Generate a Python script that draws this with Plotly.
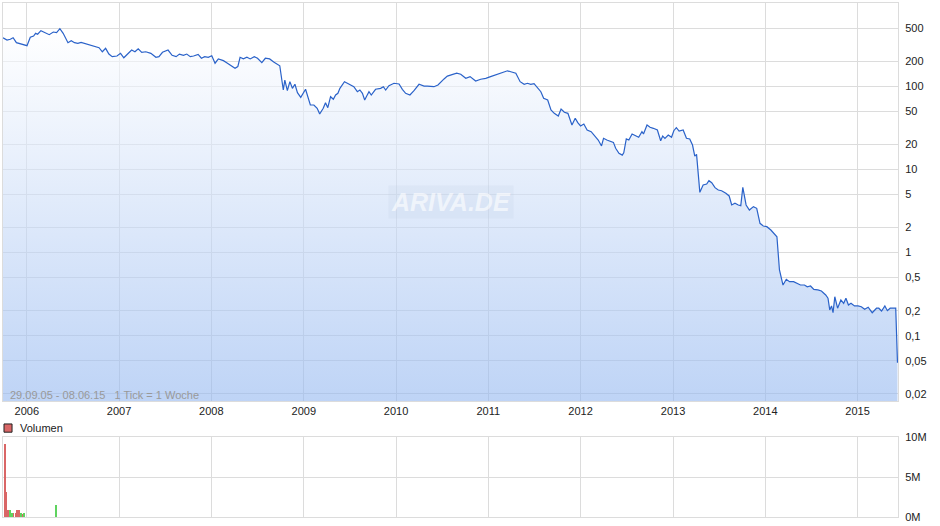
import plotly.graph_objects as go

# ---------------- data ----------------
price_dates = [
    "2005-09-29", "2005-10-15", "2005-10-28", "2005-11-08", "2005-11-21", "2005-12-07", "2005-12-23",
    "2006-01-02", "2006-01-15", "2006-01-28", "2006-02-05", "2006-02-13", "2006-02-26", "2006-03-15",
    "2006-03-31", "2006-04-16", "2006-04-29", "2006-05-12", "2006-05-25", "2006-06-13", "2006-06-26",
    "2006-07-09", "2006-07-22", "2006-08-04", "2006-08-17", "2006-08-30", "2006-09-12", "2006-10-01",
    "2006-10-14", "2006-10-27", "2006-11-09", "2006-11-22", "2006-12-05", "2006-12-24",
    "2007-01-07", "2007-01-20", "2007-02-02", "2007-02-20", "2007-03-05", "2007-03-18", "2007-04-01",
    "2007-04-17", "2007-05-07", "2007-05-27", "2007-06-08", "2007-06-22", "2007-07-14", "2007-07-30",
    "2007-08-15", "2007-08-28", "2007-09-13", "2007-09-26", "2007-10-10", "2007-10-23", "2007-11-10",
    "2007-11-23", "2007-12-06", "2007-12-20",
    "2008-01-03", "2008-01-16", "2008-01-29", "2008-02-18", "2008-03-02", "2008-03-22", "2008-04-04",
    "2008-04-15", "2008-04-24", "2008-05-07", "2008-05-21", "2008-06-03", "2008-06-19", "2008-07-02",
    "2008-07-19", "2008-08-02", "2008-08-19", "2008-09-04", "2008-09-20", "2008-09-28", "2008-10-12",
    "2008-10-18", "2008-10-28", "2008-11-07", "2008-11-17", "2008-11-27", "2008-12-07", "2008-12-20",
    "2009-01-08", "2009-01-27", "2009-02-10", "2009-02-23", "2009-03-05", "2009-03-19", "2009-03-28",
    "2009-04-06", "2009-04-17", "2009-04-28", "2009-05-07", "2009-05-16", "2009-05-24", "2009-06-02",
    "2009-06-11", "2009-06-28", "2009-07-18", "2009-08-01", "2009-08-11", "2009-08-21", "2009-08-30",
    "2009-09-07", "2009-09-16", "2009-09-25", "2009-10-12", "2009-11-01", "2009-11-12", "2009-11-21",
    "2009-12-04", "2009-12-24",
    "2010-01-13", "2010-01-26", "2010-02-08", "2010-02-25", "2010-03-13", "2010-04-02", "2010-04-22",
    "2010-05-05", "2010-05-18", "2010-05-31", "2010-06-16", "2010-06-27", "2010-07-10", "2010-07-23",
    "2010-08-12", "2010-08-29", "2010-09-14", "2010-10-04", "2010-10-21", "2010-11-12", "2010-12-02",
    "2010-12-22",
    "2011-01-10", "2011-01-30", "2011-02-16", "2011-03-04", "2011-03-18", "2011-03-31", "2011-04-20",
    "2011-05-07", "2011-05-23", "2011-06-05", "2011-06-18", "2011-07-01", "2011-07-15", "2011-07-28",
    "2011-08-08", "2011-08-24", "2011-09-06", "2011-09-19", "2011-10-05", "2011-10-16", "2011-10-29",
    "2011-11-12", "2011-11-28", "2011-12-11", "2011-12-21",
    "2012-01-01", "2012-01-14", "2012-01-27", "2012-02-12", "2012-02-24", "2012-03-11", "2012-03-24",
    "2012-04-01", "2012-04-14", "2012-04-23", "2012-05-10", "2012-05-19", "2012-06-01", "2012-06-14",
    "2012-06-20", "2012-06-30", "2012-07-10", "2012-07-23", "2012-08-05", "2012-08-18", "2012-08-31",
    "2012-09-06", "2012-09-20", "2012-10-02", "2012-10-15", "2012-10-31", "2012-11-13", "2012-11-21",
    "2012-11-30", "2012-12-13", "2012-12-26",
    "2013-01-04", "2013-01-14", "2013-01-25", "2013-02-10", "2013-02-23", "2013-03-08", "2013-03-19",
    "2013-03-28", "2013-04-04", "2013-04-17", "2013-04-30", "2013-05-14", "2013-05-23", "2013-06-03",
    "2013-06-16", "2013-06-29", "2013-07-12", "2013-07-29", "2013-08-11", "2013-08-21", "2013-09-03",
    "2013-09-16", "2013-09-26", "2013-10-04", "2013-10-17", "2013-10-30", "2013-11-15", "2013-11-28",
    "2013-12-11", "2013-12-24",
    "2014-01-07", "2014-01-23", "2014-02-02", "2014-02-16", "2014-02-26", "2014-03-12", "2014-03-25",
    "2014-04-07", "2014-04-23", "2014-05-07", "2014-05-20", "2014-06-05", "2014-06-16", "2014-06-29",
    "2014-07-12", "2014-07-28", "2014-08-11", "2014-08-28", "2014-09-06", "2014-09-13", "2014-09-20",
    "2014-09-26", "2014-10-03", "2014-10-14", "2014-10-27", "2014-11-07", "2014-11-16", "2014-11-26",
    "2014-12-06", "2014-12-20",
    "2015-01-03", "2015-01-16", "2015-01-29", "2015-02-12", "2015-02-28", "2015-03-17", "2015-03-26",
    "2015-04-06", "2015-04-19", "2015-04-29", "2015-05-10", "2015-06-01", "2015-06-08",
]
price_values = [
    385, 361, 369, 385, 336, 324, 315,
    309, 390, 404, 435, 424, 468, 443,
    419, 451, 443, 495, 435, 336, 355,
    336, 330, 339, 330, 324, 309, 300,
    292, 261, 287, 245, 228, 232,
    250, 221, 243, 274, 261, 284, 257,
    261, 250, 224, 228, 257, 274, 237,
    228, 245, 237, 245, 228, 232, 243,
    218, 228, 224,
    234, 190, 214, 204, 193, 173, 165,
    173, 224, 215, 224, 214, 228, 218,
    193, 218, 214, 197, 181, 177, 90.5,
    119, 88.7, 114, 94.8, 106, 83.9, 73.9,
    92.3, 59.7, 59.7, 54.5, 46.5, 54.5, 63.6,
    55.4, 75.1, 69.9, 78.8, 82.6, 94.8, 104,
    114, 107, 99.2, 86.3, 90.5, 82.6, 68.6,
    76.6, 86.3, 78.8, 92.3, 94.8, 99.2, 90.5,
    102, 109,
    107, 92.3, 82.6, 78.8, 88.7, 106, 101,
    101, 99.2, 99.2, 104, 114, 123, 133,
    140, 144, 140, 125, 131, 116, 122,
    125,
    131, 137, 144, 150, 154, 150, 144,
    114, 106, 109, 106, 108, 94.8, 86.3,
    71.9, 68.6, 52, 47.4, 44, 53.5, 48.8,
    47.4, 34.3, 41.3, 36.6,
    33.4, 35.3, 29.9, 28.5, 26, 22.6, 19.2,
    23.7, 22.6, 22, 21.2, 18, 15.7, 14.9,
    15.9, 23.3, 22.6, 26.7, 25.3, 24.4, 28.5,
    26.7, 34.3, 32.2, 31.3, 29.9, 22.2, 25.3,
    23.7, 26, 24.4,
    29.3, 31.8, 29, 29.9, 23.7, 23.3, 19.7,
    14.5, 15.2, 5.31, 6.51, 6.69, 7.33, 6.93,
    6.04, 5.66, 5.55, 5.17, 4.8, 3.74, 3.92,
    3.74, 3.67, 6.1, 3.74, 3.25, 3.57, 3.41,
    2.25, 2.09,
    2.05, 1.87, 1.75, 1.55, 0.617, 0.407, 0.477,
    0.446, 0.446, 0.427, 0.407, 0.407, 0.388, 0.396,
    0.361, 0.355, 0.345, 0.309, 0.282, 0.204, 0.228,
    0.189, 0.294, 0.214, 0.269, 0.245, 0.282, 0.234,
    0.245, 0.228,
    0.228, 0.223, 0.208, 0.22, 0.189, 0.214, 0.214,
    0.198, 0.228, 0.2, 0.214, 0.214, 0.0473,
]

volume_dates = [
    "2005-10-06", "2005-10-13", "2005-10-20", "2005-10-27", "2005-11-03", "2005-11-10", "2005-11-17",
    "2005-11-24", "2005-12-01", "2005-12-08", "2005-12-15", "2005-12-22", "2006-04-27",
]
volume_values = [
    9.16e6, 3.05e6, 0.79e6, 0.79e6, 0.46e6, 0.40e6, 0.50e6,
    0.79e6, 0.79e6, 0.40e6, 0.30e6, 0.50e6, 1.50e6,
]
volume_direction = [
    "down", "down", "down", "up", "up", "down", "down",
    "down", "down", "up", "down", "up", "up",
]

price_tick_values = [0.02, 0.05, 0.1, 0.2, 0.5, 1, 2, 5, 10, 20, 50, 100, 200, 500]
price_tick_labels = ["0,02", "0,05", "0,1", "0,2", "0,5", "1", "2", "5", "10", "20", "50", "100", "200", "500"]
volume_tick_values = [0, 5e6, 10e6]
volume_tick_labels = ["0M", "5M", "10M"]

# ---------------- styling ----------------
GRID = "#dcdcdc"
LINE = "#2a62c9"
FONT = "Liberation Sans, Arial, sans-serif"
fill_floor = 0.0164
price_range_log = [-1.786, 3.0035]
dir_colors = {"up": "#5fd35f", "down": "#d96666"}

fig = go.Figure()

fig.add_trace(go.Scatter(
    x=[price_dates[0], price_dates[-1]], y=[fill_floor, fill_floor],
    mode="lines", line=dict(width=0), showlegend=False, hoverinfo="skip",
    xaxis="x", yaxis="y",
))
fig.add_trace(go.Scatter(
    x=price_dates, y=price_values, mode="lines",
    line=dict(color=LINE, width=1.2),
    fill="tonexty",
    fillgradient=dict(
        type="vertical",
        colorscale=[[0, "rgba(147,183,240,0.6)"], [1, "rgba(255,255,255,0.6)"]],
    ),
    showlegend=False, xaxis="x", yaxis="y",
))

fig.add_trace(go.Bar(
    x=volume_dates, y=volume_values,
    marker=dict(color=[dir_colors[d] for d in volume_direction], line=dict(width=0)),
    width=[3.0 * 86400000] * len(volume_dates),
    showlegend=False, xaxis="x2", yaxis="y2",
))

axis_common = dict(showgrid=True, gridcolor=GRID, gridwidth=1, showline=True, linecolor=GRID,
                   linewidth=1, mirror=True, zeroline=False, ticks="")

fig.update_layout(
    width=940, height=526,
    margin=dict(l=3, r=42, t=3, b=9, autoexpand=False),
    paper_bgcolor="white", plot_bgcolor="white",
    font=dict(family=FONT, size=11, color="#222"),
    bargap=0,
    xaxis=dict(
        type="date", range=["2005-09-29", "2015-06-10"], anchor="y",
        dtick="M12", tick0="2006-01-01", tickformat="%Y",
        tickfont=dict(size=11, color="#222"), automargin=False,
        **axis_common,
    ),
    yaxis=dict(
        type="log", range=price_range_log, domain=[0.2257, 1], side="right", anchor="x",
        tickvals=price_tick_values, ticktext=price_tick_labels, ticklabelstandoff=4,
        automargin=False,
        **axis_common,
    ),
    xaxis2=dict(
        type="date", matches="x", anchor="y2", showticklabels=False,
        dtick="M12", tick0="2006-01-01", automargin=False,
        **axis_common,
    ),
    yaxis2=dict(
        range=[0, 10e6], domain=[0, 0.155], side="right", anchor="x2",
        tickvals=volume_tick_values, ticktext=volume_tick_labels, ticklabelstandoff=4,
        automargin=False,
        **axis_common,
    ),
    showlegend=False,
)

# watermark
fig.add_annotation(
    x=0.5006, y=0.6128, xref="paper", yref="paper", text="<b><i>ARIVA.DE</i></b>",
    showarrow=False, font=dict(family=FONT, size=25, color="rgba(255,255,255,0.6)"),
    bgcolor="rgba(190,205,228,0.18)", borderpad=2,
)

# period text
fig.add_annotation(
    x=0.0056, y=0.237, xref="paper", yref="paper", xanchor="left", yanchor="middle",
    text="29.09.05 - 08.06.15   1 Tick = 1 Woche", showarrow=False,
    font=dict(family=FONT, size=11, color="#999"),
)

# volume legend
fig.add_shape(type="rect", xref="paper", yref="paper", x0=0.0011, x1=0.0101, y0=0.165, y1=0.181,
              fillcolor="#d96666", line=dict(color="#222", width=1))
fig.add_annotation(
    x=0.0168, y=0.173, xref="paper", yref="paper", xanchor="left", yanchor="middle",
    text="Volumen", showarrow=False, font=dict(family=FONT, size=11, color="#222"),
)

fig.write_html(
    "out.html",
    config={"displayModeBar": False},
    post_script="document.body.style.margin='0';document.body.style.padding='0';"
                "document.documentElement.style.overflow='hidden';",
)
